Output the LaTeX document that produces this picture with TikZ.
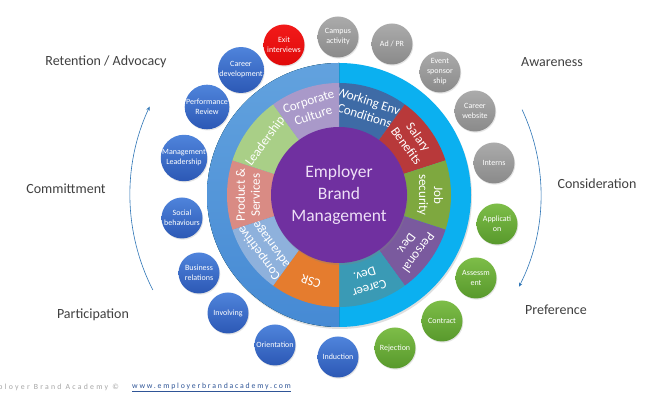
\documentclass[tikz,border=0pt]{standalone}
\usepackage{fontspec}
\setmainfont{Carlito}
\usetikzlibrary{arrows.meta,calc,shadows}
\definecolor{ringR}{HTML}{0BB0F0}
\definecolor{ringLt}{HTML}{62A2DE}
\definecolor{ringLb}{HTML}{468AD4}
\definecolor{cWork}{HTML}{3E6BA6}
\definecolor{cSal}{HTML}{B8393A}
\definecolor{cJob}{HTML}{7EA83F}
\definecolor{cPers}{HTML}{7A5A9E}
\definecolor{cCar}{HTML}{3A9AB5}
\definecolor{cCSR}{HTML}{E57C2E}
\definecolor{cComp}{HTML}{8EB1DC}
\definecolor{cProd}{HTML}{D98B84}
\definecolor{cLead}{HTML}{A9CF87}
\definecolor{cCorp}{HTML}{A999C9}
\definecolor{cPurple}{HTML}{7030A0}
\definecolor{cCenterTxt}{HTML}{EEDFF7}
\definecolor{gTop}{HTML}{ABABAB}
\definecolor{gBot}{HTML}{8A8A8A}
\definecolor{bTop}{HTML}{4F84DB}
\definecolor{bBot}{HTML}{2C58B5}
\definecolor{grTop}{HTML}{7DBD48}
\definecolor{grBot}{HTML}{58992C}
\definecolor{rTop}{HTML}{F21A1A}
\definecolor{rBot}{HTML}{E00A0A}
\definecolor{stageTxt}{HTML}{404040}
\definecolor{arrowBlue}{HTML}{2E75B6}
\definecolor{footGray}{HTML}{A6A6A6}
\definecolor{footBlue}{HTML}{2F5597}
\tikzset{
  bubble/.style={circle, minimum size=41pt, inner sep=0pt, align=center, text=white,
    font=\fontsize{8}{10}\selectfont, drop shadow={opacity=0.2, shadow xshift=0.8pt, shadow yshift=-1.2pt}},
  graybub/.style={bubble, top color=gTop, bottom color=gBot},
  bluebub/.style={bubble, top color=bTop, bottom color=bBot},
  greenbub/.style={bubble, top color=grTop, bottom color=grBot},
  redbub/.style={bubble, top color=rTop, bottom color=rBot},
  stage/.style={text=stageTxt, font=\fontsize{14}{16}\selectfont, inner sep=0pt},
  segtxt/.style={text=white, align=center, font=\fontsize{13}{15}\selectfont, inner sep=0pt},
  arrowline/.style={draw=arrowBlue, line width=0.6pt, -{Stealth[length=4pt,width=3.5pt]}}
}
\begin{document}
\begin{tikzpicture}[x=1pt,y=1pt]
\useasboundingbox (0,0) rectangle (666,395);
\clip (0,0) rectangle (666,395);
\fill[white] (0,0) rectangle (666,395);
\coordinate (C) at (339,200);

% outer ring
\fill[ringR, drop shadow={opacity=0.25, shadow xshift=1pt, shadow yshift=-2pt}] (C) circle[radius=132pt];
\fill[top color=ringLt, bottom color=ringLb] (C) -- ++(90:132) arc[start angle=90,end angle=270,radius=132pt] -- cycle;

% segments
\foreach \a/\col/\txt [count=\i] in {
  72/cWork/{Working Env,\\Conditions},
  36/cSal/{Salary\\Benefits},
  0/cJob/{Job\\security},
  -36/cPers/{Personal\\Dev.},
  -72/cCar/{Career\\Dev.},
  -108/cCSR/{CSR},
  -144/cComp/{Competitive\\advantage},
  180/cProd/{Product \&\\Services},
  144/cLead/{Leadership},
  108/cCorp/{Corporate\\Culture}}
{
  \fill[\col] (C) -- ++(\a-18:112) arc[start angle=\a-18,end angle=\a+18,radius=112pt] -- cycle;
  \path (C) ++(\a:91) node[segtxt, rotate=\a-90] (seg\i) {\txt};
}

% center
\fill[cPurple, drop shadow={opacity=0.3, shadow xshift=1pt, shadow yshift=-2pt}] (C) circle[radius=68pt];
\node[text=cCenterTxt, align=center, font=\fontsize{17.5}{22}\selectfont] (center) at (C) {Employer\\Brand\\Management};

% bubbles
\node[redbub]   (exit) at (284,350) {Exit\\interviews};
\node[graybub]  (campus) at (338,358) {Campus\\activity};
\node[graybub]  (adpr) at (392,351) {Ad / PR};
\node[graybub]  (event) at (440,323) {Event\\sponsor\\ship};
\node[graybub]  (web) at (475,284) {Career\\website};
\node[graybub]  (interns) at (494,232) {Interns};
\node[greenbub] (appl) at (497,171) {Applicati\\on};
\node[greenbub] (assess) at (476,117) {Assessm\\ent};
\node[greenbub] (contract) at (442,74) {Contract};
\node[greenbub] (reject) at (395,47) {Rejection};
\node[bluebub]  (induct) at (338,38) {Induction};
\node[bluebub]  (orient) at (275,50) {Orientation};
\node[bluebub]  (involv) at (228,82) {Involving};
\node[bluebub]  (busrel) at (199,122) {Business\\relations};
\node[bluebub]  (social) at (182,177) {Social\\behaviours};
\node[bluebub]  (mgmt) at (184,237) {Management\\Leadership};
\node[bluebub]  (perf) at (207,288) {Performance\\Review};
\node[bluebub]  (cardev) at (241,325) {Career\\development};

% stage labels
\node[stage] (ret) at (106,333) {Retention / Advocacy};
\node[stage] (comm) at (66,206) {Committment};
\node[stage] (part) at (93,80) {Participation};
\node[stage] (aware) at (552,333) {Awareness};
\node[stage] (consid) at (597,211) {Consideration};
\node[stage] (pref) at (556,85) {Preference};

% arrows
\coordinate (la) at ($(C)+(207:209)$);
\draw[arrowline] (la) arc[start angle=207,end angle=155,radius=209pt];
\coordinate (ra) at ($(C)+(25:202)$);
\draw[arrowline] (ra) arc[start angle=25,end angle=-27,radius=202pt];

% footer
\node[anchor=east, inner sep=0pt, text=footGray, font=\fontsize{7.8}{9}\selectfont\addfontfeature{LetterSpace=29}] (foot1) at (119,8) {Employer Brand Academy ©};
\node[anchor=west, inner sep=0pt, text=footBlue, font=\fontsize{7.8}{9}\selectfont\addfontfeature{LetterSpace=23}] (foot2) at (132,8) {\underline{www.employerbrandacademy.com}};
\end{tikzpicture}
\end{document}
